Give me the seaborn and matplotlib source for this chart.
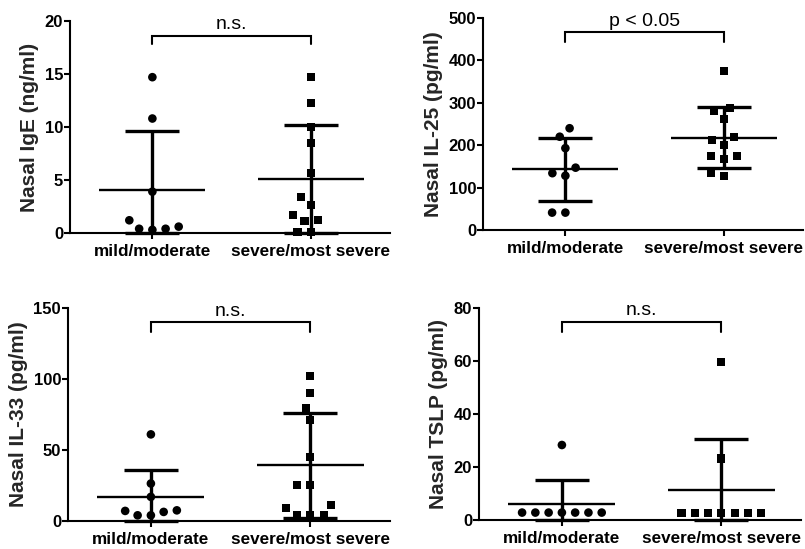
import numpy as np
import pandas as pd
import matplotlib
matplotlib.use("Agg")
import matplotlib.pyplot as plt
import seaborn as sns

# ---------------- data ----------------
categories = ["mild/moderate", "severe/most severe"]

ige_mild = [14.7, 10.8, 3.9, 1.2, 0.4, 0.3, 0.4, 0.6]
ige_severe = [14.7, 12.3, 10.0, 8.5, 5.7, 3.4, 2.6, 1.7, 1.1, 1.2, 0.05, 0.05]

il25_mild = [240, 220, 193, 147, 134, 128, 41, 41]
il25_severe = [374, 280, 287, 261, 220, 213, 201, 175, 175, 167, 128, 134]

il33_mild = [61, 26.4, 17, 7.5, 6.4, 7.1, 4, 4]
il33_severe = [102, 90, 79.4, 71, 45.2, 25.2, 25.2, 11.5, 9.2, 4, 4, 4]

tslp_mild = [28.3, 2.8, 2.8, 2.8, 2.8, 2.8, 2.8, 2.8]
tslp_severe = [59.5, 23.2, 2.8, 2.8, 2.8, 2.8, 2.8, 2.8, 2.8]

ylabels = ["Nasal IgE (ng/ml)", "Nasal IL-25 (pg/ml)",
           "Nasal IL-33 (pg/ml)", "Nasal TSLP (pg/ml)"]
ymaxes = [20, 500, 150, 80]
yticks = [[0, 5, 10, 15, 20], [0, 100, 200, 300, 400, 500],
          [0, 50, 100, 150], [0, 20, 40, 60, 80]]
sig_labels = ["n.s.", "p < 0.05", "n.s.", "n.s."]

# ---------------- layout / style ----------------
W, H = 805, 549
# axes boxes in pixels: (x0, x1, top, bottom)
boxes = [(70, 390, 21, 233), (483, 803, 18, 230),
         (68, 390, 308, 521), (479, 801, 308, 520)]
# bracket (line y, end y, text baseline y) in data units
brackets = [(18.6, 17.8, 19.25), (467, 443, 482),
            (140, 133, 144.5), (74.7, 71.0, 77.3)]

sns.set_theme(style="ticks")
plt.rcParams["font.family"] = ["Liberation Sans", "DejaVu Sans"]

fig = plt.figure(figsize=(W / 100, H / 100), dpi=100)

panels = [(ige_mild, ige_severe), (il25_mild, il25_severe),
          (il33_mild, il33_severe), (tslp_mild, tslp_severe)]

for k, (mild, severe) in enumerate(panels):
    x0, x1, top, bot = boxes[k]
    ax = fig.add_axes([x0 / W, 1 - bot / H, (x1 - x0) / W, (bot - top) / H])

    df = pd.DataFrame({
        "group": [categories[0]] * len(mild) + [categories[1]] * len(severe),
        "value": list(mild) + list(severe),
    })

    # error bars: mean and SD
    for i, cat in enumerate(categories):
        vals = df.loc[df["group"] == cat, "value"].to_numpy()
        m = vals.mean()
        sd = vals.std(ddof=1)
        lo = max(m - sd, 0)
        hi = m + sd
        ax.hlines(m, i - 0.335, i + 0.335, color="black", lw=1.7, zorder=2)
        ax.vlines(i, lo, hi, color="black", lw=2.4, zorder=2)
        ax.hlines([lo, hi], i - 0.17, i + 0.17, color="black", lw=2.4,
                  zorder=2, clip_on=False)

    sns.swarmplot(data=df[df["group"] == categories[0]], x="group", y="value",
                  order=categories, color="black", marker="o", size=6.2,
                  linewidth=2.9, edgecolor="none", zorder=3, ax=ax)
    sns.swarmplot(data=df[df["group"] == categories[1]], x="group", y="value",
                  order=categories, color="black", marker="s", size=5.8,
                  linewidth=3.3, edgecolor="none", zorder=3, ax=ax)
    for coll in ax.collections:
        if len(coll.get_offsets()) > 0 and coll.get_offsets().shape[1] == 2:
            if hasattr(coll, "get_sizes") and coll.get_sizes().size > 0:
                coll.set_clip_on(False)

    ax.set_xlim(-0.52, 1.5)
    ax.set_ylim(0, ymaxes[k])
    ax.set_yticks(yticks[k], labels=[str(t) for t in yticks[k]],
                  fontsize=12, fontweight="bold")
    ax.set_xticks([0, 1])
    ax.set_xticklabels(categories, fontsize=12.3, fontweight="bold")
    ax.set_xlabel("")
    ax.set_ylabel(ylabels[k], fontsize=15, fontweight="bold", labelpad=4)

    sns.despine(ax=ax)
    for s in ["left", "bottom"]:
        ax.spines[s].set_linewidth(1.5)
        ax.spines[s].set_color("black")
    ax.tick_params(axis="y", length=4, width=1.5, pad=1, colors="black")
    ax.tick_params(axis="x", length=4, width=1.5, pad=4, colors="black")

    yb, ye, yt = brackets[k]
    ax.plot([0, 0, 1, 1], [ye, yb, yb, ye], color="black", lw=1.5,
            clip_on=False, solid_joinstyle="miter")
    ax.text(0.5, yt, sig_labels[k], ha="center", va="baseline",
            fontsize=14, color="black")

fig.savefig("out.png", dpi=100)
